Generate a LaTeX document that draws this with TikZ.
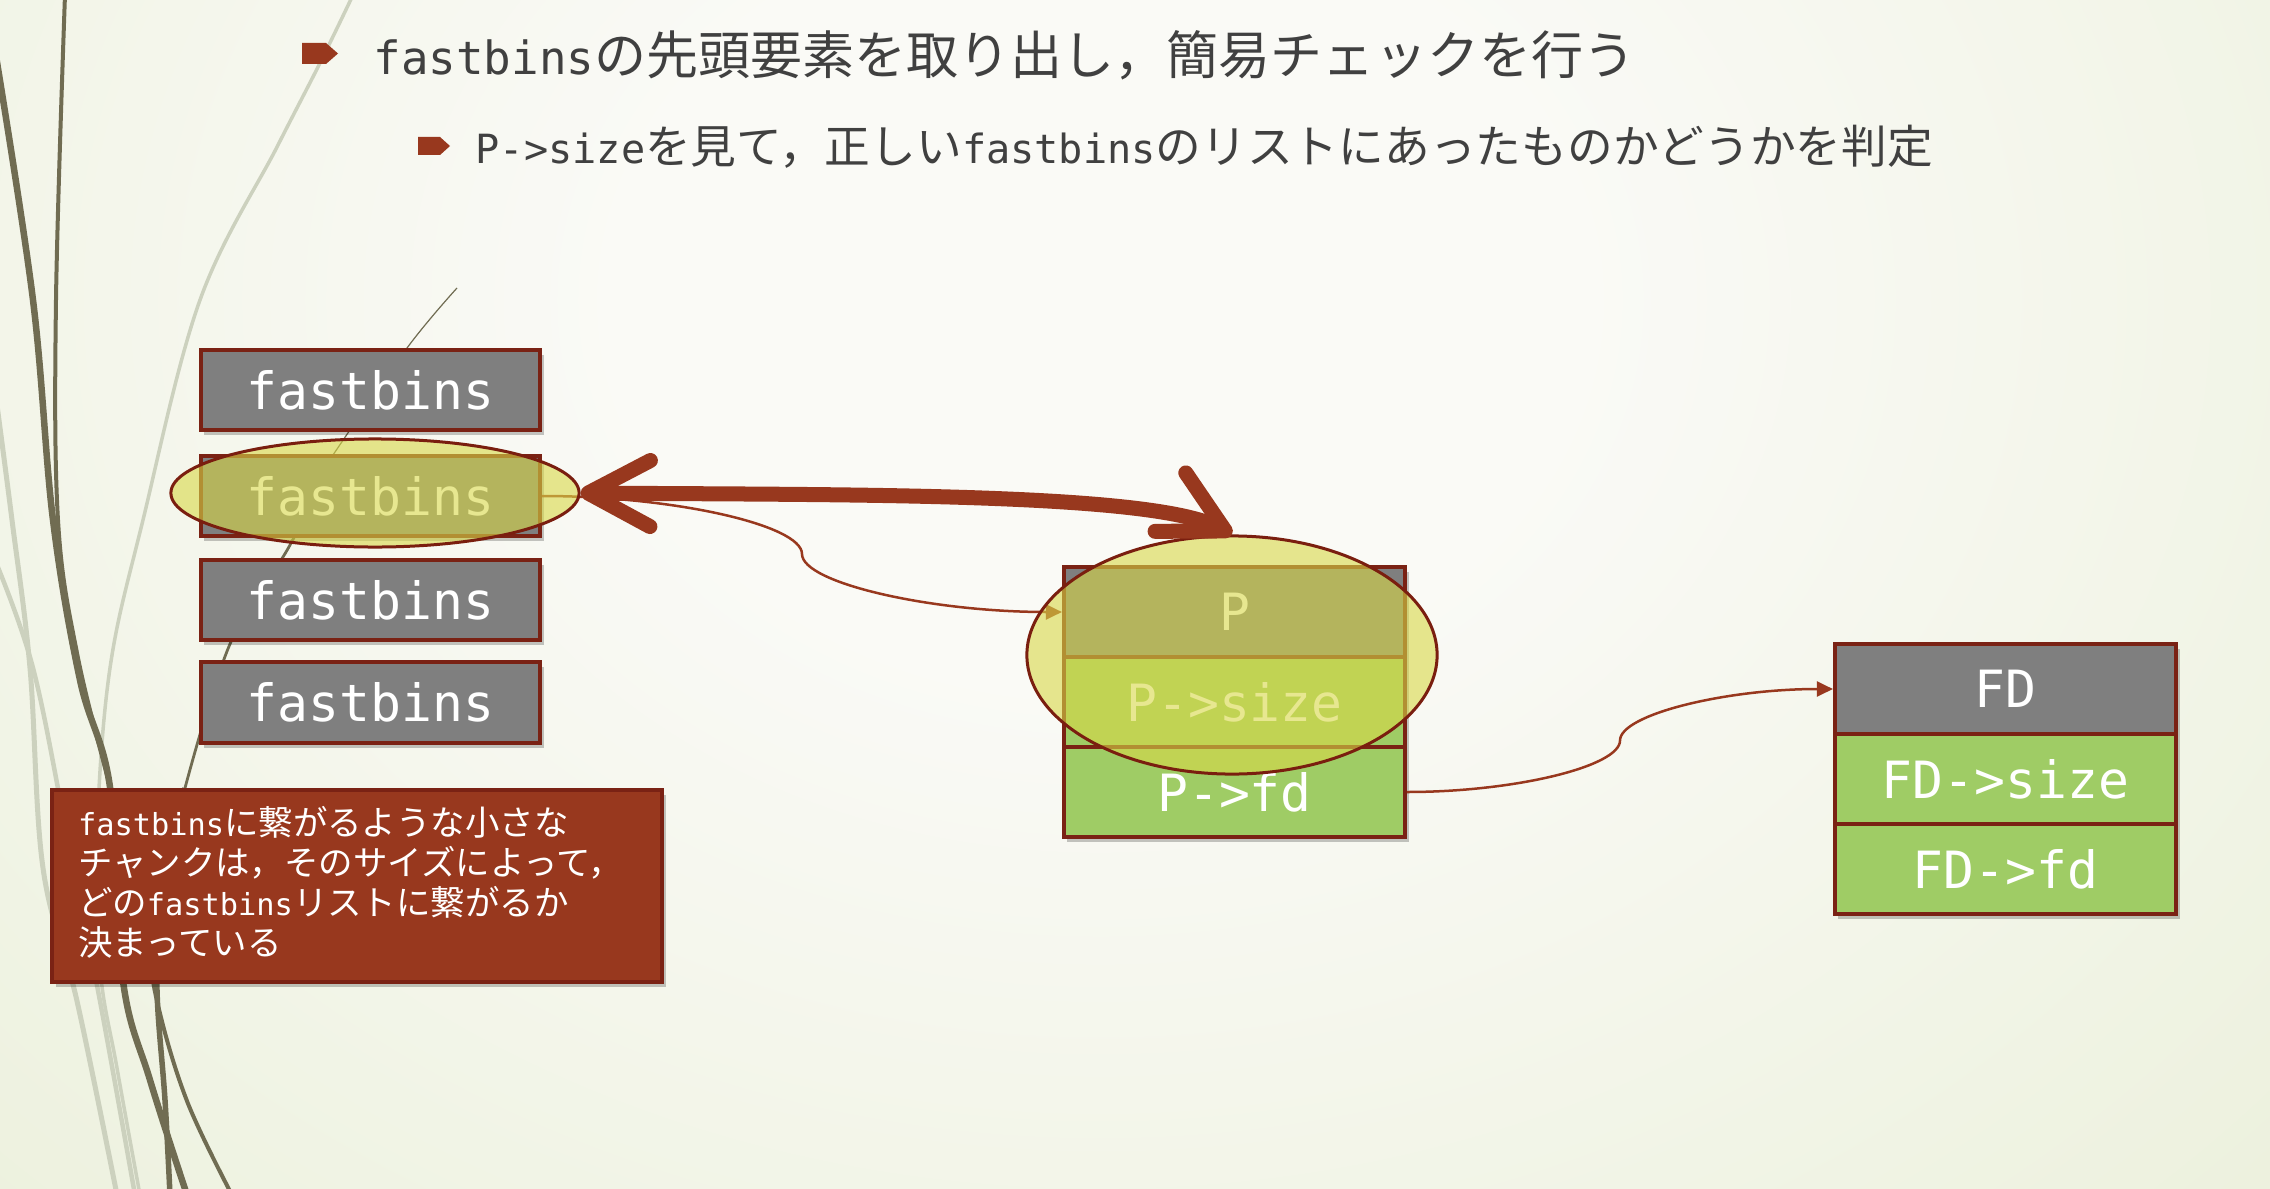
\documentclass[tikz,border=0pt]{standalone}
\usepackage{fontspec}
\usetikzlibrary{arrows.meta,shapes.geometric,shadows}
\newfontfamily\jp{Noto Sans CJK JP}
\newfontfamily\monos{DejaVu Sans Mono}[Scale=0.88]
\newfontfamily\mono{DejaVu Sans Mono}
\definecolor{bgin}{RGB}{250,250,246}
\definecolor{bgout}{RGB}{220,230,192}
\definecolor{dkolive}{RGB}{112,108,82}
\definecolor{ltolive}{RGB}{204,209,190}
\definecolor{accent}{RGB}{152,56,30}
\definecolor{bordercol}{RGB}{122,34,20}
\definecolor{boxgray}{RGB}{127,127,127}
\definecolor{boxgreen}{RGB}{159,204,101}
\definecolor{hl}{RGB}{216,216,71}
\definecolor{ellcol}{RGB}{122,30,15}
\definecolor{titlecol}{RGB}{64,64,64}
\pgfdeclareradialshading{bgshade}{\pgfpoint{0bp}{0bp}}{color(0bp)=(bgin); color(8bp)=(bgin); color(50bp)=(bgout)}
\begin{document}
\begin{tikzpicture}[x=0.01cm,y=-0.01cm,
  shadowed/.style={drop shadow={shadow xshift=0.035cm, shadow yshift=-0.05cm, fill=black, opacity=0.22}},
  cell/.style={draw=bordercol, line width=0.04cm, minimum width=3.41cm, minimum height=0.9cm, inner sep=0pt, text=white, font=\mono\fontsize{14.6}{16}\selectfont, shadowed},
  cellgray/.style={cell, fill=boxgray},
  cellgreen/.style={cell, fill=boxgreen},
  fbox/.style={cell, fill=boxgray, minimum width=3.39cm, minimum height=0.8cm},
  notebox/.style={draw=bordercol, line width=0.04cm, fill=accent, text=white, inner xsep=0.26cm, inner ysep=0pt, text width=5.58cm, align=left, minimum height=1.92cm, font=\jp\fontsize{9.8}{11.4}\selectfont, shadowed},
  titletext/.style={inner sep=0pt, text=titlecol},
  hlell/.style={ellipse, draw=ellcol, line width=0.03cm, fill=hl, fill opacity=0.6, draw opacity=1, inner sep=0pt},
  conn/.style={draw=accent, line width=0.025cm, -{Triangle[length=0.16cm,width=0.15cm]}},
  bigarrow/.style={draw=accent, line width=0.15cm, line cap=round,
     {Straight Barb[length=0.62cm,width=0.66cm,round]}-{Straight Barb[length=0.62cm,width=0.66cm,round]}},
  decodark/.style={draw=dkolive},
  decolight/.style={draw=ltolive}
]
\useasboundingbox (0,0) rectangle (2270,1188);
\clip (0,0) rectangle (2270,1188);
\shade[shading=bgshade] (-400,-900) rectangle (2600,1500);

% decorative curves
\draw[decolight, line width=0.035cm] plot[smooth, tension=0.6] coordinates {(353,-5) (320,63) (277,147) (200,300) (143,520) (110,668) (97,835) (100,968) (117,1068) (140,1195)};
\draw[decolight, line width=0.05cm] plot[smooth, tension=0.6] coordinates {(-5,390) (12,520) (30,668) (43,868) (77,1001) (117,1195)};
\draw[decolight, line width=0.045cm] plot[smooth, tension=0.6] coordinates {(-5,560) (33,668) (67,835) (100,1001) (135,1195)};
\draw[decodark, line width=0.065cm] plot[smooth, tension=0.6] coordinates {(-5,50) (33,300) (53,520) (80,680) (110,787) (123,981) (150,1080) (187,1195)};
\draw[decodark, line width=0.04cm] plot[smooth, tension=0.6] coordinates {(65,-5) (56,300) (58,520) (77,653) (110,787) (140,900) (157,1001) (187,1101) (232,1195)};
\draw[decodark, line width=0.012cm] plot[smooth, tension=0.6] coordinates {(457,288) (407,348) (333,455)};
\draw[decodark, line width=0.028cm] plot[smooth, tension=0.6] coordinates {(333,455) (290,545) (230,644) (185,788)};
\draw[decodark, line width=0.055cm] plot[smooth, tension=0.6] coordinates {(185,788) (160,900) (157,990) (165,1100) (170,1195)};

% bullets
\fill[accent] (302,43) -- (326,43) -- (338,53.5) -- (326,64) -- (302,64) -- cycle;
\fill[accent] (418,137) -- (440,137) -- (450,146) -- (440,155) -- (418,155) -- cycle;

% title texts
\node[titletext, anchor=west, font=\jp\fontsize{14.8}{18}\selectfont] (t1) at (373,55) {{\monos fastbins}の先頭要素を取り出し，簡易チェックを行う};
\node[titletext, anchor=west, font=\jp\fontsize{13}{16}\selectfont] (t2) at (475,147) {{\monos P->size}を見て，正しい{\monos fastbins}のリストにあったものかどうかを判定};

% fastbins list
\node[fbox] (fb1) at (370.5,390) {fastbins};
\node[fbox] (fb2) at (370.5,496) {fastbins};
\node[fbox] (fb3) at (370.5,600) {fastbins};
\node[fbox] (fb4) at (370.5,702.5) {fastbins};

% note
\node[notebox, anchor=north west] (note) at (50,788) {{\monos fastbins}に繋がるような小さな\\チャンクは，そのサイズによって，\\どの{\monos fastbins}リストに繋がるか\\決まっている\vspace{0.08cm}};

% P chunk
\node[cellgray] (p) at (1234.5,612) {P};
\node[cellgreen] (psize) at (1234.5,702) {P->size};
\node[cellgreen] (pfd) at (1234.5,792) {P->fd};

% FD chunk
\node[cellgray] (fd) at (2005.5,689) {FD};
\node[cellgreen] (fdsize) at (2005.5,779) {FD->size};
\node[cellgreen] (fdfd) at (2005.5,869) {FD->fd};

% thin connectors
\coordinate (m1) at (802,554);
\coordinate (m2) at (1620,740.5);
\draw[conn] (fb2.east) .. controls +(131,0) and +(0,-29) .. (m1) .. controls +(0,29) and +(-131,0) .. (p.west);
\draw[conn] (pfd.east) .. controls +(107,0) and +(0,26) .. (m2) .. controls +(0,-26) and +(-107,0) .. (fd.west);

% highlight ellipses
\node[hlell, minimum width=4.08cm, minimum height=1.08cm] (e1) at (375,493) {};
\node[hlell, minimum width=4.10cm, minimum height=2.38cm] (e2) at (1232,655) {};

% thick double arrow
\draw[bigarrow] (e1.east) .. controls +(270,2) and +(-80,-42) .. (e2.north);
\end{tikzpicture}
\end{document}
